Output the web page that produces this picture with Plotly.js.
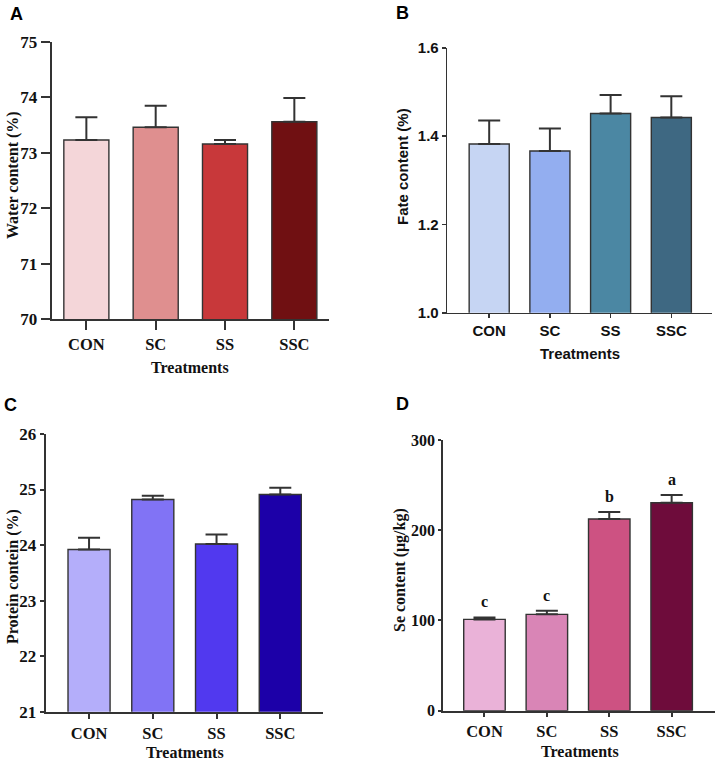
<!DOCTYPE html>
<html>
<head>
<meta charset="utf-8">
<script src="https://cdn.plot.ly/plotly-3.0.1.min.js"></script>
<style>
  html, body { margin: 0; padding: 0; background: #fff; }
  #chart { width: 716px; height: 760px; }
</style>
</head>
<body>
<div id="chart"></div>
<script>
// treatments on every panel
var treatments = ['CON', 'SC', 'SS', 'SSC'];

// A: water content (%)
var waterMean = [73.23, 73.46, 73.16, 73.56];
var waterErr  = [0.41, 0.39, 0.07, 0.43];

// B: fat content (%)
var fatMean = [1.382, 1.366, 1.451, 1.442];
var fatErr  = [0.053, 0.051, 0.042, 0.048];

// C: protein content (%)
var proteinMean = [23.92, 24.82, 24.02, 24.91];
var proteinErr  = [0.21, 0.07, 0.17, 0.12];

// D: Se content (ug/kg)
var seMean = [101.2, 106.8, 212.4, 230.5];
var seErr  = [2.2, 4.0, 7.8, 8.5];
var seLetters = ['c', 'c', 'b', 'a'];

var W = 716, H = 760;
var serif = 'Liberation Serif, Times New Roman, serif';
var sans = 'Liberation Sans, Arial, sans-serif';

function px(x) { return x / W; }
function py(y) { return 1 - y / H; }

// one entry per panel, plot box in pixels
var panels = [
  { key: '', mean: waterMean, err: waterErr, colors: ['#f4d6d9', '#df8f8f', '#c8383a', '#701012'],
    box: [51.7, 329, 42, 319], range: [70, 75], dtick: 1, xrange: [-0.5, 3.5], bw: 0.65,
    font: serif, fs: [17, 16.5, 16], ylen: 9, xlen: 9, lw: 2, title: 'Water content (%)',
    ytitle: [13, 175], xtitle: [190, 367], letter: 'A', lpos: [16, 14] },
  { key: '2', mean: fatMean, err: fatErr, colors: ['#c6d5f3', '#93aef0', '#4b87a3', '#3e6882'],
    box: [447.3, 712, 47.7, 312.7], range: [1.0, 1.6], dtick: 0.2, xrange: [-0.69, 3.67], bw: 0.66,
    font: sans, fs: [15, 15, 15], ylen: 4, xlen: 4, lw: 1.6, title: 'Fate content (%)', fmt: '.1f',
    ytitle: [403, 167], xtitle: [580, 353], letter: 'B', lpos: [402, 13] },
  { key: '3', mean: proteinMean, err: proteinErr, colors: ['#b4aefa', '#8173f5', '#5139ef', '#1c00a8'],
    box: [45.7, 323, 434, 711.7], range: [21, 26], dtick: 1, xrange: [-0.68, 3.67], bw: 0.66,
    font: serif, fs: [17, 16.5, 16], ylen: 4, xlen: 5, lw: 2, title: 'Protein contein (%)',
    ytitle: [13, 577], xtitle: [185, 752], letter: 'C', lpos: [10, 405] },
  { key: '4', mean: seMean, err: seErr, colors: ['#eab2d8', '#d985b6', '#cd5282', '#6e0c3b'],
    box: [443.3, 714.7, 440, 710.7], range: [0, 300], dtick: 100, xrange: [-0.66, 3.69], bw: 0.665,
    font: serif, fs: [16, 16.5, 16], ylen: 3, xlen: 4, lw: 2, title: 'Se content (μg/kg)',
    ytitle: [400, 570], xtitle: [580, 751], letter: 'D', lpos: [402, 404] }
];

var data = [];
var layout = {
  width: W, height: H,
  margin: { l: 0, r: 0, t: 0, b: 0 },
  paper_bgcolor: '#fff', plot_bgcolor: 'rgba(0,0,0,0)',
  showlegend: false,
  bargap: 0,
  annotations: []
};

panels.forEach(function (p) {
  data.push({
    type: 'bar',
    x: [0, 1, 2, 3],
    y: p.mean,
    width: p.bw,
    xaxis: 'x' + p.key,
    yaxis: 'y' + p.key,
    marker: { color: p.colors, line: { color: '#333', width: 1.4 } },
    error_y: { type: 'data', symmetric: false, array: p.err, arrayminus: [0, 0, 0, 0],
               color: '#333', thickness: 2, width: 11 },
    hoverinfo: 'y'
  });

  layout['xaxis' + p.key] = {
    domain: [px(p.box[0]), px(p.box[1])],
    anchor: 'y' + p.key,
    range: p.xrange,
    tickmode: 'array', tickvals: [0, 1, 2, 3], ticktext: treatments,
    ticks: 'outside', ticklen: p.xlen, tickwidth: p.lw, tickcolor: '#333',
    showline: true, linecolor: '#333', linewidth: p.lw,
    showgrid: false, zeroline: false, fixedrange: true,
    tickfont: { family: p.font, size: p.fs[1], color: '#111', weight: 'bold' }
  };
  layout['yaxis' + p.key] = {
    domain: [py(p.box[3]), py(p.box[2])],
    anchor: 'x' + p.key,
    range: p.range, dtick: p.dtick, tick0: p.range[0],
    tickformat: p.fmt || '',
    ticks: 'outside', ticklen: p.ylen, tickwidth: p.lw, tickcolor: '#333',
    showline: true, linecolor: '#333', linewidth: p.lw,
    showgrid: false, zeroline: false, fixedrange: true,
    tickfont: { family: p.font, size: p.fs[0], color: '#111', weight: 'bold' }
  };

  var titleFont = { family: p.font, size: p.fs[2], color: '#111', weight: 'bold' };
  layout.annotations.push({
    xref: 'paper', yref: 'paper', x: px(p.ytitle[0]), y: py(p.ytitle[1]),
    text: p.title, textangle: -90, showarrow: false,
    xanchor: 'center', yanchor: 'middle', font: titleFont
  });
  layout.annotations.push({
    xref: 'paper', yref: 'paper', x: px(p.xtitle[0]), y: py(p.xtitle[1]),
    text: 'Treatments', showarrow: false,
    xanchor: 'center', yanchor: 'middle', font: titleFont
  });
  layout.annotations.push({
    xref: 'paper', yref: 'paper', x: px(p.lpos[0]), y: py(p.lpos[1]),
    text: p.letter, showarrow: false,
    xanchor: 'center', yanchor: 'middle',
    font: { family: sans, size: 18, color: '#000', weight: 'bold' }
  });
});

// significance letters on panel D
seLetters.forEach(function (t, i) {
  layout.annotations.push({
    xref: 'x4', yref: 'y4', x: i, y: seMean[i] + seErr[i],
    text: t, showarrow: false, xanchor: 'center', yanchor: 'bottom', yshift: 5,
    font: { family: serif, size: 16, color: '#111', weight: 'bold' }
  });
});

Plotly.newPlot('chart', data, layout, { staticPlot: true, displayModeBar: false });
</script>
</body>
</html>
